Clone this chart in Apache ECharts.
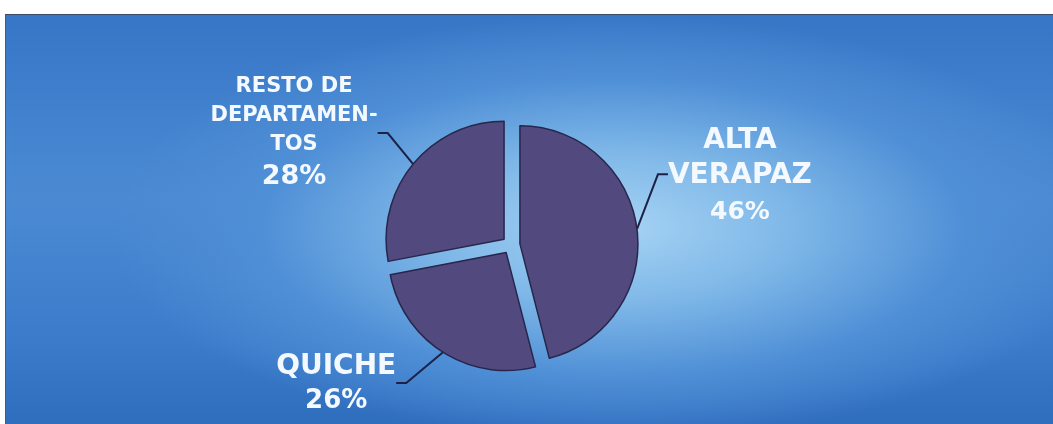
<!DOCTYPE html>
<html>
<head>
<meta charset="utf-8">
<title>Distribución por departamento</title>
<script src="https://cdn.jsdelivr.net/npm/echarts@6/dist/echarts.min.js"></script>
<style>
  html, body {
    margin: 0;
    padding: 0;
    background: #ffffff;
    width: 1053px;
    height: 424px;
    overflow: hidden;
  }
  /* panel azul con brillo central */
  #chart {
    position: absolute;
    left: 5px;
    top: 14px;
    width: 1048px;
    height: 410px;
    border-top: 1px solid #3b4a66;
    border-left: 1px solid #4a5a78;
    box-sizing: border-box;
    background:
      radial-gradient(ellipse 48% 52% at 58% 52%, #a6d3f4 0%, #7fb8e8 35%, #4f8fd6 70%, rgba(47,109,189,0) 100%),
      linear-gradient(to bottom, #3776c6 0%, #4b8ad3 45%, #3b7bca 80%, #2f6dbd 100%);
  }
</style>
</head>
<body>
<div id="chart"></div>
<script>
  // datos
  const departamentos = ['ALTA\nVERAPAZ', 'QUICHE', 'RESTO DE\nDEPARTAMEN-\nTOS'];
  const porcentajes = [46, 26, 28];

  // posición (centro) de cada etiqueta, px dentro del gráfico
  const labelPos = [[725, 162], [335, 361], [295, 124]];
  // tamaño de letra: [nombre, porcentaje, alto línea nombre, alto línea %]
  const labelFont = [[28, 25, 35, 38], [28, 26, 35, 35], [21, 27, 29, 36]];

  const sliceColor = '#524a7e';
  const edgeColor = '#27264c';

  let myChart = echarts.init(document.getElementById('chart'));

  const pieData = departamentos.map(function (name, i) {
    const f = labelFont[i];
    return {
      name: name,
      value: porcentajes[i],
      selected: true,
      label: {
        rich: {
          n: { fontSize: f[0], lineHeight: f[2], fontWeight: 'bold', color: '#f4f9ff', fontFamily: 'DejaVu Sans' },
          p: { fontSize: f[1], lineHeight: f[3], fontWeight: 'bold', color: '#f4f9ff', fontFamily: 'DejaVu Sans' }
        }
      }
    };
  });

  function labelText(params) {
    const lines = params.name.split('\n').map(function (s) { return '{n|' + s + '}'; });
    lines.push('{p|' + Math.round(params.percent) + '%}');
    return lines.join('\n');
  }

  const itemStyle = { color: sliceColor, borderColor: edgeColor, borderWidth: 1.5 };

  myChart.setOption({
    backgroundColor: 'transparent',
    animation: false,
    series: [
      {
        type: 'pie',
        center: [505, 230],
        radius: 118,
        startAngle: 90,
        clockwise: true,
        selectedMode: 'multiple',
        selectedOffset: 9,
        avoidLabelOverlap: false,
        itemStyle: itemStyle,
        select: { itemStyle: itemStyle },
        emphasis: { disabled: true },
        label: {
          show: true,
          position: 'outside',
          formatter: labelText,
          align: 'center'
        },
        labelLine: {
          show: true,
          length: 20,
          length2: 10,
          lineStyle: { color: '#1d2145', width: 2 }
        },
        labelLayout: function (params) {
          const p = labelPos[params.dataIndex];
          const r = params.labelRect;
          // punto de anclaje por defecto de la etiqueta
          const ax = params.align === 'right' ? r.x + r.width
            : params.align === 'left' ? r.x : r.x + r.width / 2;
          const ay = params.verticalAlign === 'top' ? r.y
            : params.verticalAlign === 'bottom' ? r.y + r.height : r.y + r.height / 2;
          return {
            x: ax,
            y: ay,
            dx: p[0] - ax,
            dy: p[1] - ay,
            align: 'center',
            verticalAlign: 'middle'
          };
        },
        data: pieData
      }
    ]
  });

  //自适应大小
  window.onresize = function () {
    myChart.resize();
  };
</script>
</body>
</html>
